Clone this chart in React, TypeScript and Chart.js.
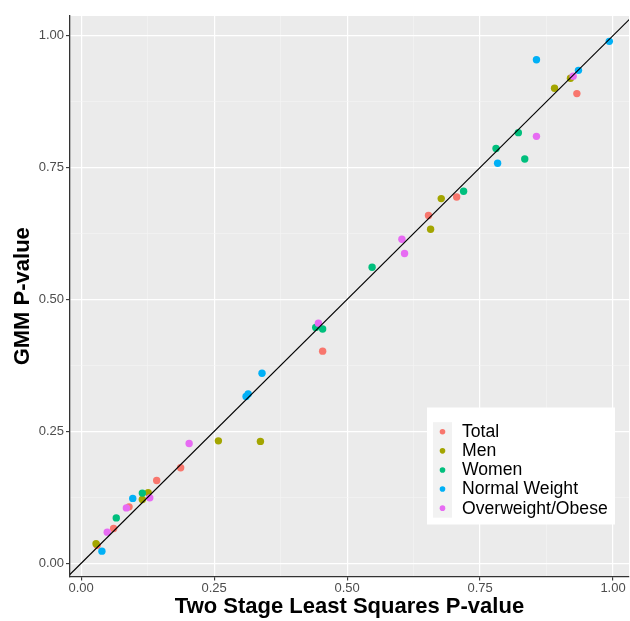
import React, { useEffect, useRef } from "react";
import { Chart, registerables } from "chart.js";

Chart.register(...registerables);

const SERIES_NAMES = ["Total", "Men", "Women", "Normal Weight", "Overweight/Obese"];
const SERIES_COLORS = ["#F8766D", "#A3A500", "#00BF7D", "#00B0F6", "#E76BF3"];

const totalX = [0.932, 0.706, 0.653, 0.454, 0.187, 0.142, 0.090, 0.061, 0.030];
const totalY = [0.890, 0.694, 0.659, 0.402, 0.181, 0.157, 0.107, 0.066, 0.034];
const menX = [0.920, 0.890, 0.677, 0.657, 0.258, 0.337, 0.126, 0.115, 0.028];
const menY = [0.919, 0.900, 0.691, 0.633, 0.232, 0.231, 0.134, 0.121, 0.037];
const womenX = [0.822, 0.780, 0.834, 0.719, 0.547, 0.441, 0.454, 0.115, 0.066];
const womenY = [0.816, 0.786, 0.766, 0.705, 0.561, 0.447, 0.444, 0.133, 0.086];
const normalX = [0.993, 0.856, 0.935, 0.783, 0.340, 0.314, 0.310, 0.097, 0.039];
const normalY = [0.989, 0.954, 0.934, 0.758, 0.360, 0.321, 0.316, 0.123, 0.023];
const overX = [0.925, 0.856, 0.603, 0.608, 0.446, 0.203, 0.129, 0.085, 0.049];
const overY = [0.923, 0.809, 0.614, 0.587, 0.455, 0.227, 0.124, 0.105, 0.059];

const SERIES_X = [totalX, menX, womenX, normalX, overX];
const SERIES_Y = [totalY, menY, womenY, normalY, overY];

const ALL_TICKS = [0, 0.125, 0.25, 0.375, 0.5, 0.625, 0.75, 0.875, 1];
const MAJOR_TICKS = [0, 0.25, 0.5, 0.75, 1];
const MAJOR_LABELS = ["0.00", "0.25", "0.50", "0.75", "1.00"];

const X_RANGE = [-0.021, 1.03];
const Y_RANGE = [-0.025, 1.037];
const DIAG = [-0.1, 1.1];

const FONT = '"Liberation Sans", Arial, Helvetica, sans-serif';

const isMajor = (v: number) => MAJOR_TICKS.includes(v);

const panelBg = {
  id: "panelBg",
  beforeDraw(chart: any) {
    const { ctx, chartArea: a } = chart;
    ctx.save();
    ctx.fillStyle = "#EBEBEB";
    ctx.fillRect(a.left, a.top, a.right - a.left, a.bottom - a.top);
    ctx.restore();
  },
};

const ggLegend = {
  id: "ggLegend",
  afterDraw(chart: any) {
    const { ctx, chartArea: a } = chart;
    const boxRight = a.right - 14;
    const boxBottom = a.bottom - 52;
    const boxW = 188;
    const boxH = 117;
    const boxL = boxRight - boxW;
    const boxT = boxBottom - boxH;
    ctx.save();
    ctx.fillStyle = "#FFFFFF";
    ctx.fillRect(boxL, boxT, boxW, boxH);
    const keyL = boxL + 6;
    const keyW = 19;
    const rowH = 19.1;
    const keyT = boxT + 14.7;
    ctx.fillStyle = "#F2F2F2";
    ctx.fillRect(keyL, keyT, keyW, rowH * SERIES_NAMES.length);
    ctx.font = `17.6px ${FONT}`;
    ctx.textBaseline = "middle";
    ctx.textAlign = "left";
    SERIES_NAMES.forEach((name, i) => {
      const cy = keyT + rowH * (i + 0.5);
      ctx.beginPath();
      ctx.arc(keyL + keyW / 2, cy, 2.8, 0, Math.PI * 2);
      ctx.fillStyle = SERIES_COLORS[i];
      ctx.fill();
      ctx.fillStyle = "#000000";
      ctx.fillText(name, keyL + keyW + 10, cy + 0.5);
    });
    ctx.restore();
  },
};

export default function App() {
  const ref = useRef<HTMLCanvasElement | null>(null);

  useEffect(() => {
    document.body.style.margin = "0";
    if (!ref.current) return;

    const datasets: any[] = SERIES_NAMES.map((name, i) => ({
      type: "scatter",
      label: name,
      data: SERIES_X[i].map((x, j) => ({ x, y: SERIES_Y[i][j] })),
      backgroundColor: SERIES_COLORS[i],
      borderColor: SERIES_COLORS[i],
      pointRadius: 3.7,
      pointBorderWidth: 0,
      order: SERIES_NAMES.length - i,
    }));
    datasets.push({
      type: "line",
      label: "diag",
      data: DIAG.map((v) => ({ x: v, y: v })),
      borderColor: "#000000",
      borderWidth: 1.1,
      pointRadius: 0,
      fill: false,
      order: 0,
      clip: 0,
    });

    const gridOpts = {
      color: (c: any) => (c.tick && isMajor(c.tick.value) ? "#FFFFFF" : "#F5F5F5"),
      lineWidth: (c: any) => (c.tick && isMajor(c.tick.value) ? 1.2 : 0.6),
      tickColor: (c: any) => (c.tick && isMajor(c.tick.value) ? "#333333" : "rgba(0,0,0,0)"),
      tickWidth: 1.1,
      tickLength: 4,
      drawTicks: true,
    };
    const tickCb = (v: any) => {
      const k = MAJOR_TICKS.indexOf(Number(v));
      return k >= 0 ? MAJOR_LABELS[k] : "";
    };
    const setTicks = (scale: any) => {
      scale.ticks = ALL_TICKS.map((v) => ({ value: v }));
    };

    const chart = new Chart(ref.current, {
      type: "scatter",
      data: { datasets },
      options: {
        animation: false,
        responsive: false,
        devicePixelRatio: 1,
        layout: { autoPadding: false, padding: { top: 16, right: 1, left: 0, bottom: 0 } },
        plugins: { legend: { display: false }, tooltip: { enabled: false } },
        scales: {
          x: {
            type: "linear",
            min: X_RANGE[0],
            max: X_RANGE[1],
            afterBuildTicks: setTicks,
            afterFit: (s: any) => {
              s.height = 44.5;
              s.paddingLeft = 0;
              s.paddingRight = 0;
            },
            grid: gridOpts as any,
            border: { display: true, color: "#333333", width: 1.3 },
            ticks: {
              callback: tickCb,
              autoSkip: false,
              maxRotation: 0,
              padding: 0,
              color: "#4D4D4D",
              font: { family: FONT, size: 13 },
            },
            title: {
              display: true,
              text: "Two Stage Least Squares P-value",
              color: "#000000",
              font: { family: FONT, size: 22, weight: "bold" },
              padding: { top: 0, bottom: 1 },
            },
          },
          y: {
            type: "linear",
            min: Y_RANGE[0],
            max: Y_RANGE[1],
            afterBuildTicks: setTicks,
            afterFit: (s: any) => {
              s.width = 70;
              s.paddingTop = 0;
              s.paddingBottom = 0;
            },
            grid: gridOpts as any,
            border: { display: true, color: "#333333", width: 1.3 },
            ticks: {
              callback: tickCb,
              autoSkip: false,
              padding: 2,
              color: "#4D4D4D",
              font: { family: FONT, size: 13 },
            },
            title: {
              display: true,
              text: "GMM P-value",
              color: "#000000",
              font: { family: FONT, size: 22, weight: "bold" },
              padding: { top: 10, bottom: 0 },
            },
          },
        },
      } as any,
      plugins: [panelBg, ggLegend],
    });

    return () => {
      chart.destroy();
    };
  }, []);

  return (
    <div style={{ width: 630, height: 621, position: "relative" }}>
      <canvas ref={ref} width={630} height={621} style={{ display: "block" }} />
    </div>
  );
}
